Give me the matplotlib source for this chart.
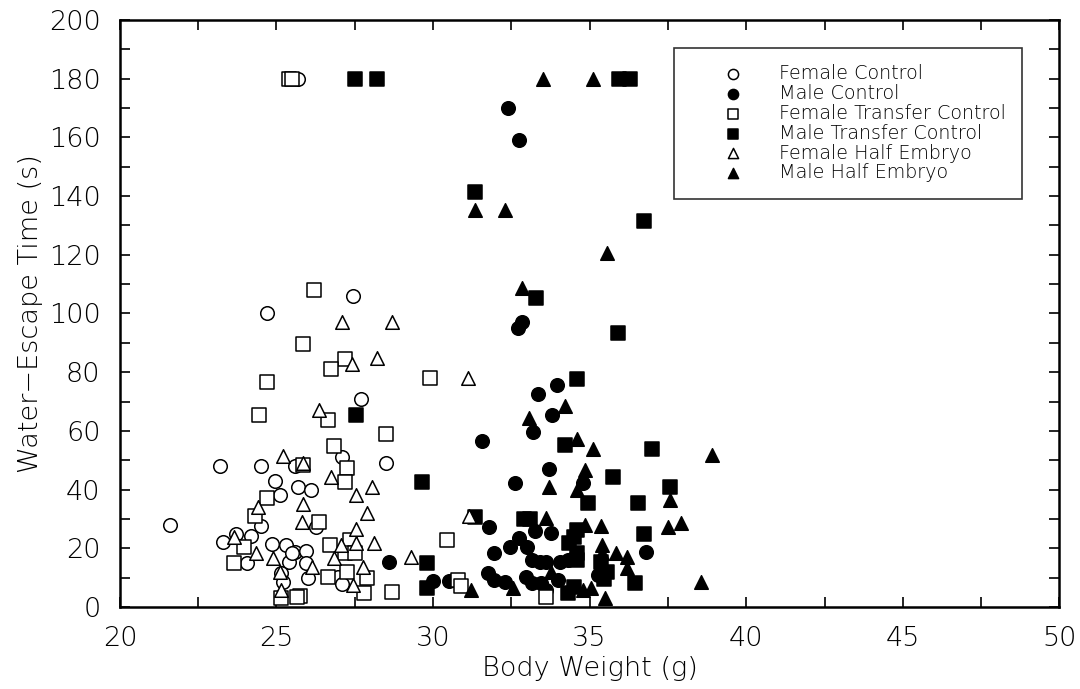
import matplotlib
matplotlib.use("Agg")
import matplotlib.pyplot as plt
from matplotlib.ticker import MultipleLocator
from matplotlib import font_manager as fm

# pick a thin, wide sans-serif if available
fam = 'DejaVu Sans'
weight = 'normal'
names = {(f.name, f.weight) for f in fm.fontManager.ttflist}
for cand_name, cand_w in [('DejaVu Sans', 200), ('DejaVu Sans', 'light'), ('Lato', 300), ('Open Sans', 300)]:
    for n, w in names:
        if n == cand_name and (w == cand_w or (isinstance(w, int) and isinstance(cand_w, int) and w <= 300)):
            fam, weight = cand_name, w
            break
    else:
        continue
    break
plt.rcParams['font.family'] = [fam, 'DejaVu Sans']
plt.rcParams['font.weight'] = weight
plt.rcParams['axes.labelweight'] = weight

# ---------------- data ----------------
female_control_x = [21.6, 23.2, 24.5, 24.7, 25.7, 27.45, 27.7, 28.5, 27.1, 25.6, 25.7, 26.1, 24.95, 25.1,
                    24.5, 26.25, 23.3, 23.7, 24.2, 24.85, 25.3, 25.6, 25.95, 25.4, 25.95, 24.05, 25.15,
                    25.2, 25.5, 26.0, 26.95, 27.1]
female_control_y = [28, 48, 48, 100, 180, 106, 71, 49, 51, 48, 41, 40, 43, 38,
                    27.6, 27.4, 22, 25, 24.3, 21.5, 21, 18.8, 19.2, 15.3, 15.1, 15, 11.6,
                    8.6, 18.4, 9.9, 10.3, 7.8]

male_control_x = [32.4, 32.75, 32.7, 32.85, 33.95, 33.35, 33.8, 33.2, 31.55, 33.7, 32.6, 34.8, 31.8,
                  33.25, 33.75, 36.8, 28.6, 30.0, 30.5, 31.95, 31.75, 31.95, 32.3, 32.45, 32.75, 33.0,
                  33.15, 33.4, 33.6, 32.98, 33.15, 33.45, 33.6, 34.05, 34.0, 34.3, 35.27]
male_control_y = [170, 159, 95, 97, 75.6, 72.7, 65.4, 59.7, 56.7, 46.9, 42.4, 42.1, 27.2,
                  26, 25.3, 18.8, 15.4, 9, 9, 18.3, 11.5, 9.2, 8.6, 20.5, 23.4, 20.5,
                  16, 15.4, 15.4, 10.3, 8.1, 8.1, 5.8, 15.4, 9.2, 16, 10.9]

female_transfer_x = [25.4, 25.5, 26.2, 25.85, 27.2, 26.75, 24.7, 29.9, 24.45, 26.65, 28.5, 26.85, 27.25,
                     27.2, 25.85, 24.7, 24.3, 26.35, 23.95, 23.65, 26.7, 27.35, 27.2, 27.5, 26.65,
                     27.9, 27.8, 28.7, 30.45, 25.75, 25.15, 25.65, 27.25, 30.8, 30.9, 33.6]
female_transfer_y = [180, 180, 108, 89.5, 84.4, 81, 76.6, 78, 65.4, 63.7, 59, 54.8, 47.2,
                     42.7, 48.4, 37, 31, 29, 20.5, 15, 21.1, 22.8, 18.3, 18.3, 10.3,
                     9.8, 4.7, 5.2, 22.8, 3.7, 3, 3.5, 12, 9.2, 7, 3.5]

male_transfer_x = [27.5, 28.2, 35.95, 36.3, 31.35, 36.75, 33.3, 35.9, 34.6, 27.55, 34.2, 37.0, 35.75,
                   29.65, 34.95, 36.55, 37.55, 31.35, 32.9, 33.1, 36.75, 29.8, 29.8, 35.55, 35.45,
                   36.45, 34.5, 34.3, 34.6, 34.6, 34.35, 34.5, 34.6, 35.35]
male_transfer_y = [180, 180, 180, 180, 141.5, 131.5, 105.4, 93.2, 77.7, 65.4, 55.2, 53.7, 44.2,
                   42.7, 35.3, 35.5, 41, 30.6, 30, 30, 25, 14.9, 6.4, 12, 9.4,
                   8.1, 6.9, 4.7, 16, 18.4, 21.7, 24, 26.2, 15.4]

female_half_x = [27.1, 28.7, 27.4, 28.2, 31.1, 26.35, 25.2, 25.85, 26.75, 28.05, 27.55, 25.85, 24.4,
                 27.9, 25.8, 31.15, 27.55, 28.1, 27.55, 27.05, 26.85, 27.75, 29.3, 27.45, 26.15,
                 23.65, 24.35, 24.9, 25.1, 25.15]
female_half_y = [97, 97, 82.8, 84.7, 78, 67, 51.4, 49, 44.4, 41, 38, 35, 34,
                 32, 29, 31, 26.5, 21.9, 21.7, 21.1, 16.6, 13.7, 17.1, 7.5, 13.7,
                 24, 18.4, 16.7, 12, 5.8]

male_half_x = [33.5, 35.1, 31.35, 32.3, 35.55, 32.85, 34.2, 33.05, 34.6, 35.1, 34.85, 33.7, 34.6,
               33.6, 34.85, 35.35, 35.4, 35.4, 35.85, 36.2, 36.2, 35.5, 35.05, 34.8, 32.55, 33.75,
               31.2, 38.9, 37.55, 37.5, 37.9, 38.55]
male_half_y = [180, 180, 135.3, 135.3, 120.5, 108.6, 68.5, 64.3, 57.1, 53.7, 46.7, 40.8, 39.9,
               30.2, 27.9, 27.6, 21.1, 18.3, 18.3, 17.1, 13.2, 3, 6.4, 5.8, 6.4, 12,
               5.8, 51.8, 36.5, 27.4, 28.7, 8.6]

x_ticks = [20, 25, 30, 35, 40, 45, 50]
y_ticks = [0, 20, 40, 60, 80, 100, 120, 140, 160, 180, 200]

# ---------------- figure ----------------
fig = plt.figure(figsize=(10.8, 6.89), dpi=100)
ax = fig.add_axes([0.111, 0.119, 0.870, 0.852])

ms = 95
lw = 1.1
ax.scatter(female_control_x, female_control_y, s=ms, marker='o', facecolors='white',
           edgecolors='black', linewidths=lw, label='Female Control', zorder=3)
ax.scatter(male_control_x, male_control_y, s=ms, marker='o', facecolors='black',
           edgecolors='black', linewidths=lw, label='Male Control', zorder=3)
ax.scatter(female_transfer_x, female_transfer_y, s=ms, marker='s', facecolors='white',
           edgecolors='black', linewidths=lw, label='Female Transfer Control', zorder=3)
ax.scatter(male_transfer_x, male_transfer_y, s=ms, marker='s', facecolors='black',
           edgecolors='black', linewidths=lw, label='Male Transfer Control', zorder=3)
ax.scatter(female_half_x, female_half_y, s=ms, marker='^', facecolors='white',
           edgecolors='black', linewidths=lw, label='Female Half Embryo', zorder=3)
ax.scatter(male_half_x, male_half_y, s=ms, marker='^', facecolors='black',
           edgecolors='black', linewidths=lw, label='Male Half Embryo', zorder=3)

ax.set_xlim(20, 50)
ax.set_ylim(0, 200)
ax.set_xticks(x_ticks)
ax.set_yticks(y_ticks)
ax.xaxis.set_minor_locator(MultipleLocator(2.5))
ax.yaxis.set_minor_locator(MultipleLocator(10))
ax.tick_params(which='both', direction='in', top=True, right=True, length=7, width=1.2,
               labelsize=19.5)
ax.tick_params(axis='x', which='major', pad=14)
ax.tick_params(axis='y', which='major', pad=14)
for sp in ax.spines.values():
    sp.set_linewidth(1.8)

ax.set_xlabel('Body Weight (g)', fontsize=19.5, labelpad=3)
ax.set_ylabel('Water\u2212Escape Time (s)', fontsize=19.5, labelpad=4)

leg = ax.legend(loc='upper left', bbox_to_anchor=(0.590, 0.952), frameon=True, fancybox=False,
                edgecolor='black', fontsize=13.8, markerscale=0.75, handletextpad=0.2,
                labelspacing=0.04, borderpad=0.85, scatterpoints=1, borderaxespad=0,
                handlelength=4.4)
leg.get_frame().set_linewidth(1.2)

fig.savefig('out.png', dpi=100)
